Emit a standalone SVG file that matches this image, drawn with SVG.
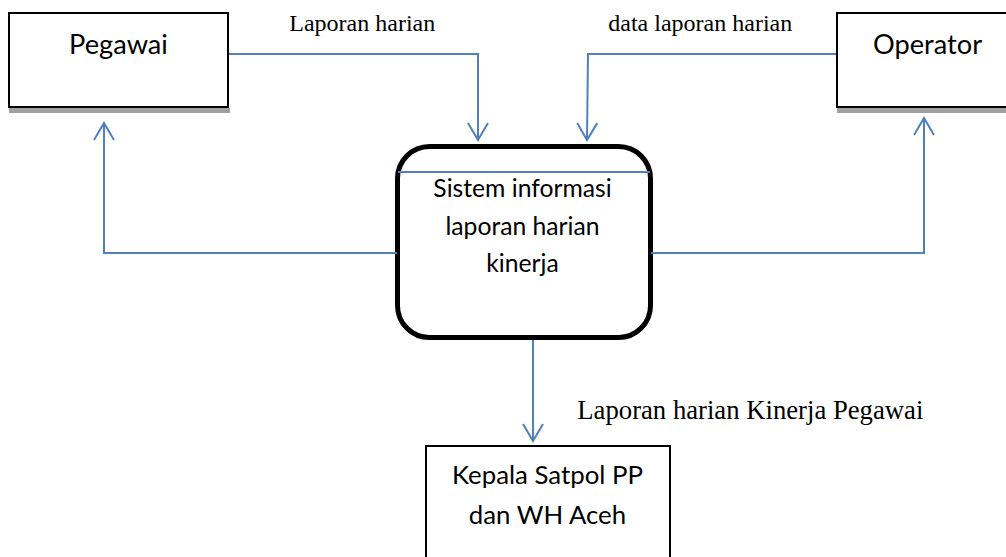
<svg xmlns="http://www.w3.org/2000/svg" width="1006" height="557" viewBox="0 0 1006 557">
<style>
.box{fill:#fff;stroke:#000;stroke-width:2}
.shadow{fill:#a0a0a0}
.proc{fill:#fff;stroke:#000;stroke-width:5}
.lbl{font-family:Lato,"Open Sans",sans-serif;fill:#000;text-anchor:middle}
.flow{font-family:"Liberation Serif","Times New Roman",serif;fill:#000}
.conn{fill:none;stroke:#4F81BD;stroke-width:2}
</style>
<defs>
<marker id="arr" markerUnits="userSpaceOnUse" viewBox="-19 -12 22 24" markerWidth="22" markerHeight="24" refX="0" refY="0" orient="auto" overflow="visible">
<path d="M-17,-10 L0,0 L-17,10" fill="none" stroke="#4F81BD" stroke-width="2"/>
</marker>
</defs>
<rect width="1006" height="557" fill="#fff"/>
<g id="pegawai">
<rect class="shadow" x="9" y="108" width="221" height="5"/>
<rect class="box" x="9" y="13" width="219" height="94"/>
<text class="lbl" x="118.5" y="54" font-size="27.2">Pegawai</text>
</g>
<g id="operator">
<rect class="shadow" x="837" y="108" width="175" height="5"/>
<rect class="box" x="837" y="13" width="180" height="94"/>
<text class="lbl" x="927.5" y="54" font-size="27.2">Operator</text>
</g>
<g id="sistem">
<rect class="proc" x="397.5" y="146.5" width="253" height="191" rx="32" ry="32"/>
<line x1="398" y1="172" x2="650" y2="172" stroke="#4F81BD" stroke-width="2"/>
<text class="lbl" x="522.5" y="197" font-size="24.7">Sistem informasi</text>
<text class="lbl" x="522.5" y="234.5" font-size="24.7">laporan harian</text>
<text class="lbl" x="522.5" y="272" font-size="24.7">kinerja</text>
</g>
<g id="kepala">
<rect class="box" x="426" y="446" width="244" height="130"/>
<text class="lbl" x="547.5" y="483.5" font-size="25.8">Kepala Satpol PP</text>
<text class="lbl" x="547.5" y="524" font-size="25.8">dan WH Aceh</text>
</g>
<g id="connectors">
<path class="conn" d="M229,54 H478 V140" marker-end="url(#arr)"/>
<path class="conn" d="M836,54 H588 L587,140" marker-end="url(#arr)"/>
<path class="conn" d="M397,253 H104 V123" marker-end="url(#arr)"/>
<path class="conn" d="M651,253 H924 V118" marker-end="url(#arr)"/>
<path class="conn" d="M533,340 V441" marker-end="url(#arr)"/>
</g>
<g id="labels">
<text class="flow" x="289.3" y="31" font-size="24">Laporan harian</text>
<text class="flow" x="608.3" y="31" font-size="24">data laporan harian</text>
<text class="flow" x="577.3" y="419" font-size="26.7">Laporan harian Kinerja Pegawai</text>
</g>
</svg>
